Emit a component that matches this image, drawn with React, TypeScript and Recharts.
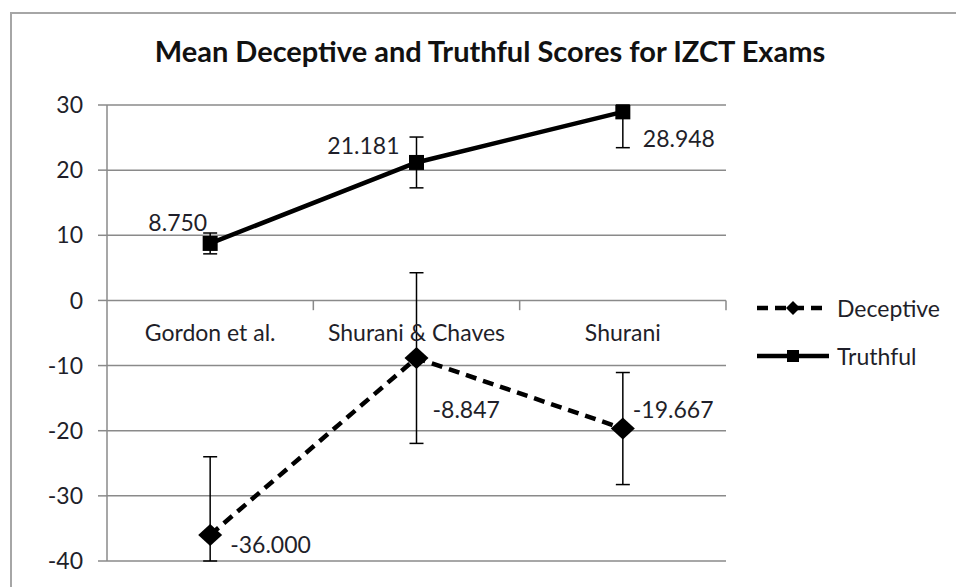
import {
  LineChart,
  Line,
  XAxis,
  YAxis,
  CartesianGrid,
  Legend,
  ErrorBar,
  LabelList,
  ReferenceLine,
  ReferenceDot,
} from "recharts";

const categories = ["Gordon et al.", "Shurani & Chaves", "Shurani"];
const deceptive = [-36.0, -8.847, -19.667];
const deceptiveErr = [12, 13.1, 8.6];
const truthful = [8.75, 21.181, 28.948];
const truthfulErr = [1.6, 3.9, 5.5];
const yTicks = [-40, -30, -20, -10, 0, 10, 20, 30];
const boundaries = [1, 2, 3];
const Y_MIN = -40;
const Y_MAX = 30;

const data = categories.map((name, i) => ({
  name,
  x: i + 0.5,
  deceptive: deceptive[i],
  deceptiveErr: deceptiveErr[i],
  truthful: truthful[i],
  truthfulErr: truthfulErr[i],
}));

// excel clips error bars at the axis bounds
const clipErr = (valueKey: string, errKey: string) => (d: any) => {
  const v = d[valueKey];
  const e = d[errKey];
  return [Math.min(e, v - Y_MIN), Math.min(e, Y_MAX - v)];
};

const FONT = "Lato, 'Open Sans', sans-serif";
const GRID = "#8a8a8a";
const TEXT = "#1f1f2a";
const FS = 23;

// where each data label sits relative to its point
const truthfulLabelPos = [
  { dx: -3, dy: -21, anchor: "end" },
  { dx: -17, dy: -17, anchor: "end" },
  { dx: 20, dy: 26, anchor: "start" },
];
const deceptiveLabelPos = [
  { dx: 20, dy: 9, anchor: "start" },
  { dx: 16, dy: 51, anchor: "start" },
  { dx: 10, dy: -20, anchor: "start" },
];

function makeLabel(pos: { dx: number; dy: number; anchor: string }[]) {
  return (props: any) => {
    const { x, y, value, index } = props;
    const p = pos[index] ?? { dx: 0, dy: 0, anchor: "middle" };
    return (
      <text
        x={Number(x) + p.dx}
        y={Number(y) + p.dy}
        textAnchor={p.anchor as any}
        dominantBaseline="central"
        fontFamily={FONT}
        fontSize={FS}
        fill={TEXT}
      >
        {Number(value).toFixed(3)}
      </text>
    );
  };
}

function SquareDot(props: any) {
  const { cx, cy } = props;
  if (cx == null || cy == null) return null;
  const s = 15;
  return <rect x={cx - s / 2} y={cy - s / 2} width={s} height={s} fill="#000" />;
}

function DiamondDot(props: any) {
  const { cx, cy } = props;
  if (cx == null || cy == null) return null;
  const w = 12;
  const h = 11;
  return (
    <polygon
      points={`${cx},${cy - h} ${cx + w},${cy} ${cx},${cy + h} ${cx - w},${cy}`}
      fill="#000"
    />
  );
}

function renderLegend(props: any) {
  const payload = props.payload ?? [];
  return (
    <div style={{ fontFamily: FONT, fontSize: FS, color: TEXT }}>
      {payload.map((entry: any) => {
        const dashed = entry.dataKey === "deceptive";
        return (
          <div
            key={entry.value}
            style={{ display: "flex", alignItems: "center", height: 48 }}
          >
            <svg width={78} height={20} style={{ marginRight: 4 }}>
              <line
                x1={2}
                y1={10}
                x2={74}
                y2={10}
                stroke="#000"
                strokeWidth={4.5}
                strokeDasharray={dashed ? "11 7" : undefined}
              />
              {dashed ? (
                <polygon points="38,3 45,10 38,17 31,10" fill="#000" />
              ) : (
                <rect x={32} y={4} width={12} height={12} fill="#000" />
              )}
            </svg>
            <span>{entry.value}</span>
          </div>
        );
      })}
    </div>
  );
}

export default function App() {
  return (
    <div
      style={{
        position: "absolute",
        left: 0,
        top: 0,
        width: 956,
        height: 587,
        overflow: "hidden",
        background: "#fff",
      }}
    >
      <div
        style={{
          position: "absolute",
          left: 10,
          top: 12,
          width: 980,
          height: 620,
          border: "2px solid #a6a6a6",
        }}
      />
      <div
        style={{
          position: "absolute",
          left: 0,
          top: 33,
          width: 980,
          textAlign: "center",
          fontFamily: FONT,
          fontWeight: 700,
          fontSize: 29,
          lineHeight: "36px",
          color: "#111",
        }}
      >
        Mean Deceptive and Truthful Scores for IZCT Exams
      </div>
      <div style={{ position: "absolute", left: 0, top: 0 }}>
        <LineChart
          width={956}
          height={587}
          data={data}
          margin={{ top: 105, right: 230, bottom: 26, left: 0 }}
        >
          <CartesianGrid vertical={false} stroke={GRID} strokeWidth={1.5} />
          <XAxis dataKey="x" type="number" domain={[0, 3]} hide />
          <YAxis
            type="number"
            domain={[Y_MIN, Y_MAX]}
            ticks={yTicks}
            interval={0}
            allowDataOverflow
            width={107}
            axisLine={{ stroke: GRID, strokeWidth: 1.5 }}
            tickLine={{ stroke: GRID, strokeWidth: 1.5 }}
            tickSize={9}
            tickMargin={15}
            tick={{ fontFamily: FONT, fontSize: FS, fill: TEXT }}
          />
          {boundaries.map((b) => (
            <ReferenceLine
              key={b}
              segment={[
                { x: b, y: 0 },
                { x: b, y: -1.5 },
              ]}
              stroke={GRID}
              strokeWidth={1.5}
            />
          ))}
          {data.map((d) => (
            <ReferenceDot
              key={d.name}
              x={d.x}
              y={0}
              r={0}
              fill="none"
              stroke="none"
              label={{
                value: d.name,
                position: "bottom",
                offset: 24,
                fontFamily: FONT,
                fontSize: FS,
                fill: TEXT,
              }}
            />
          ))}
          <Legend
            layout="horizontal"
            verticalAlign="middle"
            align="center"
            content={renderLegend}
            wrapperStyle={{ left: 755, top: 284, width: 201 }}
          />
          <Line
            name="Deceptive"
            dataKey="deceptive"
            stroke="#000"
            strokeWidth={4.5}
            strokeDasharray="11 7"
            dot={<DiamondDot />}
            activeDot={false}
            isAnimationActive={false}
          >
            <ErrorBar
              dataKey={clipErr("deceptive", "deceptiveErr")}
              direction="y"
              width={7}
              stroke="#000"
              strokeWidth={1.5}
              isAnimationActive={false}
            />
            <LabelList dataKey="deceptive" content={makeLabel(deceptiveLabelPos)} />
          </Line>
          <Line
            name="Truthful"
            dataKey="truthful"
            stroke="#000"
            strokeWidth={4.5}
            dot={<SquareDot />}
            activeDot={false}
            isAnimationActive={false}
          >
            <ErrorBar
              dataKey={clipErr("truthful", "truthfulErr")}
              direction="y"
              width={7}
              stroke="#000"
              strokeWidth={1.5}
              isAnimationActive={false}
            />
            <LabelList dataKey="truthful" content={makeLabel(truthfulLabelPos)} />
          </Line>
        </LineChart>
      </div>
    </div>
  );
}
